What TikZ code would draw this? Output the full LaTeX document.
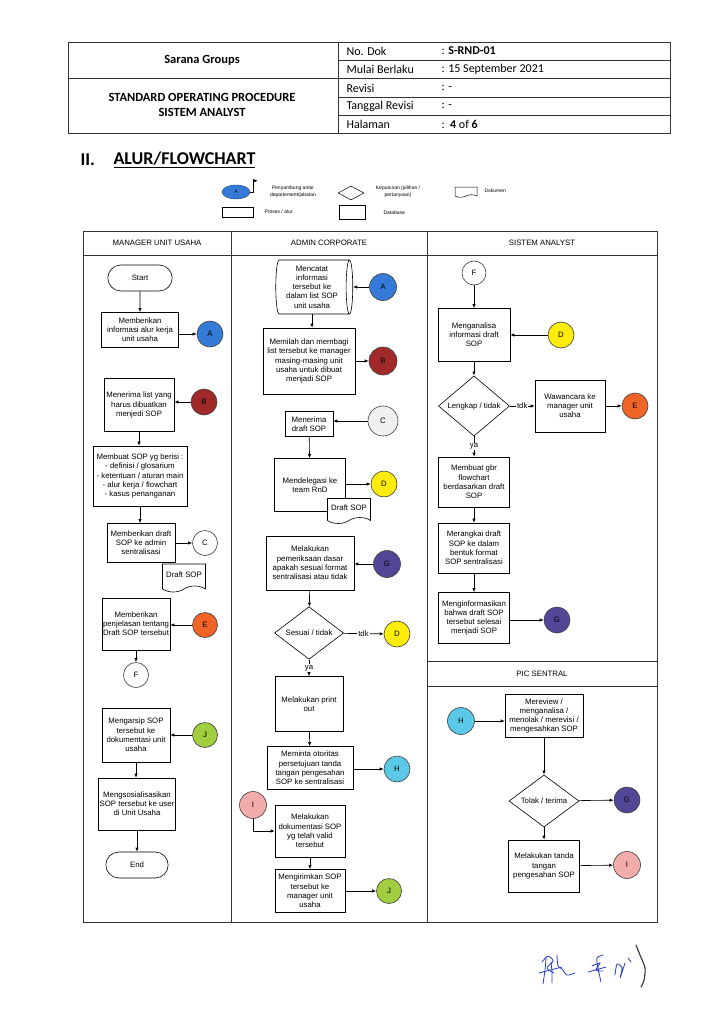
\documentclass[tikz,border=0pt]{standalone}
\usepackage{fontspec}
\setmainfont{Liberation Sans}
\newfontfamily\hdfont{Carlito}
\usetikzlibrary{arrows, arrows.meta}
\usetikzlibrary{calc}
\usetikzlibrary{shapes.geometric, shapes.misc, shapes.symbols}

\definecolor{conA}{RGB}{52,122,214}
\definecolor{conB}{RGB}{160,42,42}
\definecolor{conC}{RGB}{240,240,240}
\definecolor{conD}{RGB}{255,236,10}
\definecolor{conE}{RGB}{240,100,40}
\definecolor{conG}{RGB}{82,70,150}
\definecolor{conH}{RGB}{92,200,232}
\definecolor{conI}{RGB}{242,172,170}
\definecolor{conJ}{RGB}{160,206,62}
\definecolor{sigblue}{RGB}{40,62,190}

\newcommand{\flowfont}{\fontsize{7.8}{9.2}\selectfont}
\newcommand{\legfont}{\fontsize{5}{7.2}\selectfont}
\newcommand{\tabfont}{\hdfont\fontsize{12}{14}\selectfont}

\tikzset{
  garis/.style={line width=0.7pt, draw=black!80},
  proses/.style={draw, fill=white, align=center, font=\flowfont, inner sep=1pt, line width=0.6pt},
  terminal/.style={rounded rectangle, draw, fill=white, font=\flowfont, minimum width=70pt, minimum height=26pt, line width=0.6pt},
  konektor/.style={circle, draw=black!75, fill=#1, minimum size=26pt, inner sep=0pt, font=\flowfont, line width=0.6pt},
  keputusan/.style={diamond, draw, fill=white, font=\flowfont, inner sep=0pt, minimum width=70pt, minimum height=51pt, line width=0.6pt},
  dokumen/.style={tape, tape bend top=none, tape bend bottom=in and out, tape bend height=6pt, draw, fill=white, font=\flowfont, minimum width=43pt, minimum height=28pt, line width=0.6pt},
  database/.style={cylinder, draw, fill=white, align=center, font=\flowfont, aspect=0.15, inner sep=1pt, line width=0.6pt},
  panah/.style={-{Latex[length=4pt,width=3.2pt]}, line width=0.6pt},
  ket/.style={fill=white, inner sep=0.8pt, font=\flowfont},
  lajur/.style={font=\flowfont},
}

\begin{document}
\begin{tikzpicture}[x=1pt, y=-1pt]
  \useasboundingbox[fill=white] (0,0) rectangle (719,1024);

  % header table
  \draw[garis] (68,42) rectangle (670,133);
  \draw[garis] (338,42) -- (338,133);
  \draw[garis] (68,78.5) -- (338,78.5);
  \foreach \y in {60,78.5,97,115}
    \draw[garis] (338,\y) -- (670,\y);

  \node[font=\hdfont\bfseries\fontsize{12.5}{14.5}\selectfont] (sarana) at (202,60) {Sarana Groups};
  \node[align=center, font=\hdfont\bfseries\fontsize{12.5}{14.5}\selectfont] (sop) at (202,105) {STANDARD OPERATING PROCEDURE\\SISTEM ANALYST};
  \node[anchor=west, font=\tabfont] (nodok) at (343,51) {No. Dok};
  \node[anchor=west, font=\tabfont] (mulai) at (343,69.5) {Mulai Berlaku};
  \node[anchor=west, font=\tabfont] (revisi) at (343,88) {Revisi};
  \node[anchor=west, font=\tabfont] (tglrev) at (343,106) {Tanggal Revisi};
  \node[anchor=west, font=\tabfont] (hal) at (343,124) {Halaman};
  \node[anchor=west, font=\tabfont] (vnodok) at (438,51) {: \textbf{S-RND-01}};
  \node[anchor=west, font=\tabfont] (vmulai) at (438,69.5) {: 15 September 2021};
  \node[anchor=west, font=\tabfont] (vrevisi) at (438,88) {: -};
  \node[anchor=west, font=\tabfont] (vtglrev) at (438,106) {: -};
  \node[anchor=west, font=\tabfont] (vhal) at (438,124) {:\ \ \textbf{4} of \textbf{6}};

  % judul
  \node[anchor=west, font=\hdfont\bfseries\fontsize{18}{20}\selectfont] (bab) at (77,160) {II.};
  \node[anchor=west, font=\hdfont\bfseries\fontsize{18}{20}\selectfont] (judul) at (110,160) {\underline{ALUR/FLOWCHART}};

  % legenda
  \node[ellipse, draw=conA!60!black, fill=conA, minimum width=28pt, minimum height=14pt, inner sep=0pt, font=\legfont] (lgA) at (236,192) {A};
  \coordinate (bendera) at (253,179);
  \draw[line width=0.5pt] (lgA.east) -| (bendera);
  \fill (bendera) -- ++(4.5,1.8) -- ++(-4.5,1.8) -- cycle;
  \node[align=center, font=\legfont] (lgAt) at (293,192) {Penyambung antar\\departement/jabatan};
  \node[diamond, draw, line width=0.5pt, minimum width=26pt, minimum height=14pt, inner sep=0pt] (lgdec) at (351,193) {};
  \node[align=center, font=\legfont] (lgdect) at (398,192) {Keputusan (pilihan /\\pertanyaan)};
  \node[tape, tape bend top=none, tape bend bottom=in and out, tape bend height=2.5pt, draw, line width=0.5pt, minimum width=22pt, minimum height=10pt, inner sep=0pt] (lgdoc) at (466,191) {};
  \node[anchor=west, font=\legfont] (lgdoct) at (481,191) {Dokumen};
  \node[draw, line width=0.5pt, minimum width=31pt, minimum height=10pt, inner sep=0pt] (lgpro) at (238,212) {};
  \node[anchor=west, font=\legfont] (lgprot) at (261,212) {Proses / alur};
  \node[cylinder, draw, line width=0.5pt, aspect=0.5, minimum width=14pt, minimum height=26pt, inner sep=0pt] (lgdb) at (352,212) {};
  \node[anchor=west, font=\legfont] (lgdbt) at (380,213) {Database};

  % lajur
  \draw[garis] (83,231) rectangle (657,922);
  \draw[garis] (83,255) -- (657,255);
  \draw[garis] (231,231) -- (231,922);
  \draw[garis] (427,231) -- (427,922);
  \draw[garis] (427,661) -- (657,661);
  \draw[garis] (427,686) -- (657,686);
  \node[lajur] (hmgr) at (157,243) {MANAGER UNIT USAHA};
  \node[lajur] (hadm) at (329,243) {ADMIN CORPORATE};
  \node[lajur] (hsa) at (542,243) {SISTEM ANALYST};
  \node[lajur] (hpic) at (542,673.5) {PIC SENTRAL};

  % manager unit usaha
  \node[terminal, minimum width=71pt] (start) at (140,278) {Start};
  \node[proses, minimum width=77pt, minimum height=35pt] (m1) at (140,330) {Memberikan\\informasi alur kerja\\unit usaha};
  \node[konektor=conA] (cA1) at (210,334) {A};
  \node[proses, minimum width=70pt, minimum height=53pt] (m2) at (139,405) {Menerima list yang\\harus dibuatkan\\menjedi SOP};
  \node[konektor=conB] (cB1) at (204,402) {B};
  \node[proses, minimum width=94pt, minimum height=60pt] (m3) at (140,476) {Membuat SOP yg berisi :\\- definisi / glosarium\\- ketentuan / aturan main\\- alur kerja / flowchart\\- kasus penanganan};
  \node[proses, minimum width=68pt, minimum height=39pt] (m4) at (141,543) {Memberikan draft\\SOP ke admin\\sentralisasi};
  \node[konektor=white, minimum size=25pt] (cC1) at (205,543) {C};
  \node[dokumen] (doc1) at (184,575) {Draft SOP};
  \node[proses, minimum width=68pt, minimum height=52pt] (m5) at (136,624) {Memberikan\\penjelasan tentang\\Draft SOP tersebut};
  \node[konektor=conE, minimum size=25pt] (cE1) at (205,625) {E};
  \node[konektor=white, minimum size=25pt] (cF1) at (136,675) {F};
  \node[proses, minimum width=68pt, minimum height=54pt] (m6) at (136,735) {Mengarsip SOP\\tersebut ke\\dokumentasi unit\\usaha};
  \node[konektor=conJ, minimum size=25pt] (cJ1) at (205,735) {J};
  \node[proses, minimum width=77pt, minimum height=52pt] (m7) at (137,804) {Mengsosialisasikan\\SOP tersebut ke user\\di Unit Usaha};
  \node[terminal, minimum width=69pt] (end) at (137,865) {End};

  \draw[panah] (start) -- (m1);
  \draw[panah] (m1.east |- cA1) -- (cA1);
  \draw[panah] (cB1) -- (m2.east |- cB1);
  \draw[panah] (m2.south) -- (m2.south |- m3.north);
  \draw[panah] (m3.south) -- (m3.south |- m4.north);
  \draw[panah] (m4) -- (cC1);
  \draw[panah] (cE1) -- (m5.east |- cE1);
  \draw[panah] (m5) -- (cF1);
  \draw[panah] (cJ1) -- (m6);
  \draw[panah] (m6.south) -- (m6.south |- m7.north);
  \draw[panah] (m7.south) -- (m7.south |- end.north);

  % admin corporate
  \node[database, minimum width=54pt, minimum height=77pt] (db) at (312,287) {Mencatat\\informasi\\tersebut ke\\dalam list SOP\\unit usaha};
  \node[konektor=conA, minimum size=27pt] (cA2) at (383,287) {A};
  \node[proses, minimum width=92pt, minimum height=66pt] (p1) at (309,361) {Memilah dan membagi\\list tersebut ke manager\\masing-masing unit\\usaha untuk dibuat\\menjadi SOP};
  \node[konektor=conB, minimum size=28pt] (cB2) at (383,361) {B};
  \node[proses, minimum width=48pt, minimum height=25pt] (p2) at (309,424) {Menerima\\draft SOP};
  \node[konektor=conC, minimum size=30pt] (cC2) at (383,421) {C};
  \node[proses, minimum width=71pt, minimum height=53pt] (p3) at (310,485) {Mendelegasi ke\\team RnD};
  \node[konektor=conD] (cD2) at (384,484) {D};
  \node[dokumen, minimum height=25pt] (doc2) at (349,508) {Draft SOP};
  \node[proses, minimum width=88pt, minimum height=54pt] (p4) at (310,563) {Melakukan\\pemeriksaan dasar\\apakah sesuai format\\sentralisasi atau tidak};
  \node[konektor=conG, minimum size=27pt] (cG2) at (387,564) {G};
  \node[keputusan, minimum width=69pt] (dec1) at (309,633) {Sesuai / tidak};
  \node[konektor=conD] (cD3) at (397,634) {D};
  \node[proses, minimum width=68pt, minimum height=55pt] (p5) at (309,704) {Melakukan print\\out};
  \node[proses, minimum width=86pt, minimum height=43pt] (p6) at (310,768) {Meminta otoritas\\persetujuan tanda\\tangan pengesahan\\SOP ke sentralisasi};
  \node[konektor=conH] (cH2) at (397,769) {H};
  \node[konektor=conI, minimum size=27pt] (cI2) at (253,805) {I};
  \node[proses, minimum width=70pt, minimum height=52pt] (p7) at (310,831) {Melakukan\\dokumentasi SOP\\yg telah valid\\tersebut};
  \node[proses, minimum width=70pt, minimum height=43pt] (p8) at (310,891) {Mengirimkan SOP\\tersebut ke\\manager unit\\usaha};
  \node[konektor=conJ, minimum size=25pt] (cJ2) at (389,891) {J};

  \draw[panah] (cA2) -- (db.east |- cA2);
  \draw[panah] (db.south) -- (db.south |- p1.north);
  \draw[panah] (p1) -- (cB2);
  \draw[panah] (cC2) -- (p2.east |- cC2);
  \draw[panah] (p2) -- (p3);
  \draw[panah] (p3.east |- cD2) -- (cD2);
  \draw[panah] (cG2) -- (p4.east |- cG2);
  \draw[panah] (p4) -- (dec1);
  \draw[panah] (dec1) -- node[ket] {tdk} (cD3);
  \draw[panah] (dec1) -- node[ket] {ya} (p5);
  \draw[panah] (p5) -- (p6);
  \draw[panah] (p6.east |- cH2) -- (cH2);
  \draw[panah] (cI2.south) |- (p7.west);
  \draw[panah] (p7) -- (p8);
  \draw[panah] (p8) -- (cJ2);

  % sistem analyst
  \node[konektor=white, minimum size=24pt] (cF3) at (474,273) {F};
  \node[proses, minimum width=72pt, minimum height=53pt] (s1) at (474,335) {Menganalisa\\informasi draft\\SOP};
  \node[konektor=conD] (cD4) at (561,335) {D};
  \node[keputusan, minimum width=71pt] (dec2) at (474,406) {Lengkap / tidak};
  \node[proses, minimum width=70pt, minimum height=52pt] (s2) at (570,406) {Wawancara ke\\manager unit\\usaha};
  \node[konektor=conE] (cE3) at (635,406) {E};
  \node[proses, minimum width=71pt, minimum height=50pt] (s3) at (474,482) {Membuat gbr\\flowchart\\berdasarkan draft\\SOP};
  \node[proses, minimum width=71pt, minimum height=50pt] (s4) at (474,548) {Merangkai draft\\SOP ke dalam\\bentuk format\\SOP sentralisasi};
  \node[proses, minimum width=71pt, minimum height=51pt] (s5) at (474,618) {Menginformasikan\\bahwa draft SOP\\tersebut selesai\\menjadi SOP};
  \node[konektor=conG] (cG3) at (557,620) {G};

  \draw[panah] (cF3) -- (s1);
  \draw[panah] (cD4) -- (s1);
  \draw[panah] (s1) -- (dec2);
  \draw[panah] (dec2) -- node[ket] {tdk} (s2);
  \draw[panah] (s2) -- (cE3);
  \draw[panah] (dec2) -- node[ket] {ya} (s3);
  \draw[panah] (s3) -- (s4);
  \draw[panah] (s4) -- (s5);
  \draw[panah] (s5.east |- cG3) -- (cG3);

  % pic sentral
  \node[konektor=conH, minimum size=27pt] (cH3) at (461,721) {H};
  \node[proses, minimum width=78pt, minimum height=43pt] (q1) at (544,716) {Mereview /\\menganalisa /\\menolak /  merevisi /\\mengesahkan SOP};
  \node[keputusan] (dec3) at (544,801) {Tolak / terima};
  \node[konektor=conG] (cG4) at (627,800) {G};
  \node[proses, minimum width=71pt, minimum height=52pt] (q2) at (544,866) {Melakukan tanda\\tangan\\pengesahan SOP};
  \node[konektor=conI, minimum size=27pt] (cI3) at (627,865) {I};

  \draw[panah] (cH3) -- (q1.west |- cH3);
  \draw[panah] (q1) -- (dec3);
  \draw[panah] (dec3) -- (cG4);
  \draw[panah] (dec3) -- (q2);
  \draw[panah] (q2) -- (cI3);

  % paraf
  \begin{scope}[sigblue, line width=0.8pt, line cap=round]
    \draw plot[smooth] coordinates {(542,962) (548,956) (553,961) (547,968) (554,973)};
    \draw plot[smooth] coordinates {(546,958) (545,970) (543,984)};
    \draw plot[smooth] coordinates {(551,962) (552,972) (552,983)};
    \draw (539,973) -- (562,967);
    \draw plot[smooth] coordinates {(557,955) (558,966) (562,969) (567,975) (575,973)};
    \draw plot[smooth] coordinates {(603,955) (597,958) (598,968) (601,982)};
    \draw (588,972) -- (606,967);
    \draw plot[smooth] coordinates {(592,966) (600,963) (596,970) (603,971)};
    \draw plot[smooth] coordinates {(615,975) (617,964) (622,968) (620,978) (625,963)};
    \draw plot[smooth] coordinates {(628,958) (631,962)};
  \end{scope}
  \draw[black!80, line width=1.1pt, line cap=round] plot[smooth] coordinates {(636,945) (640,955) (645,968) (644,980) (641,987)};
\end{tikzpicture}
\end{document}
